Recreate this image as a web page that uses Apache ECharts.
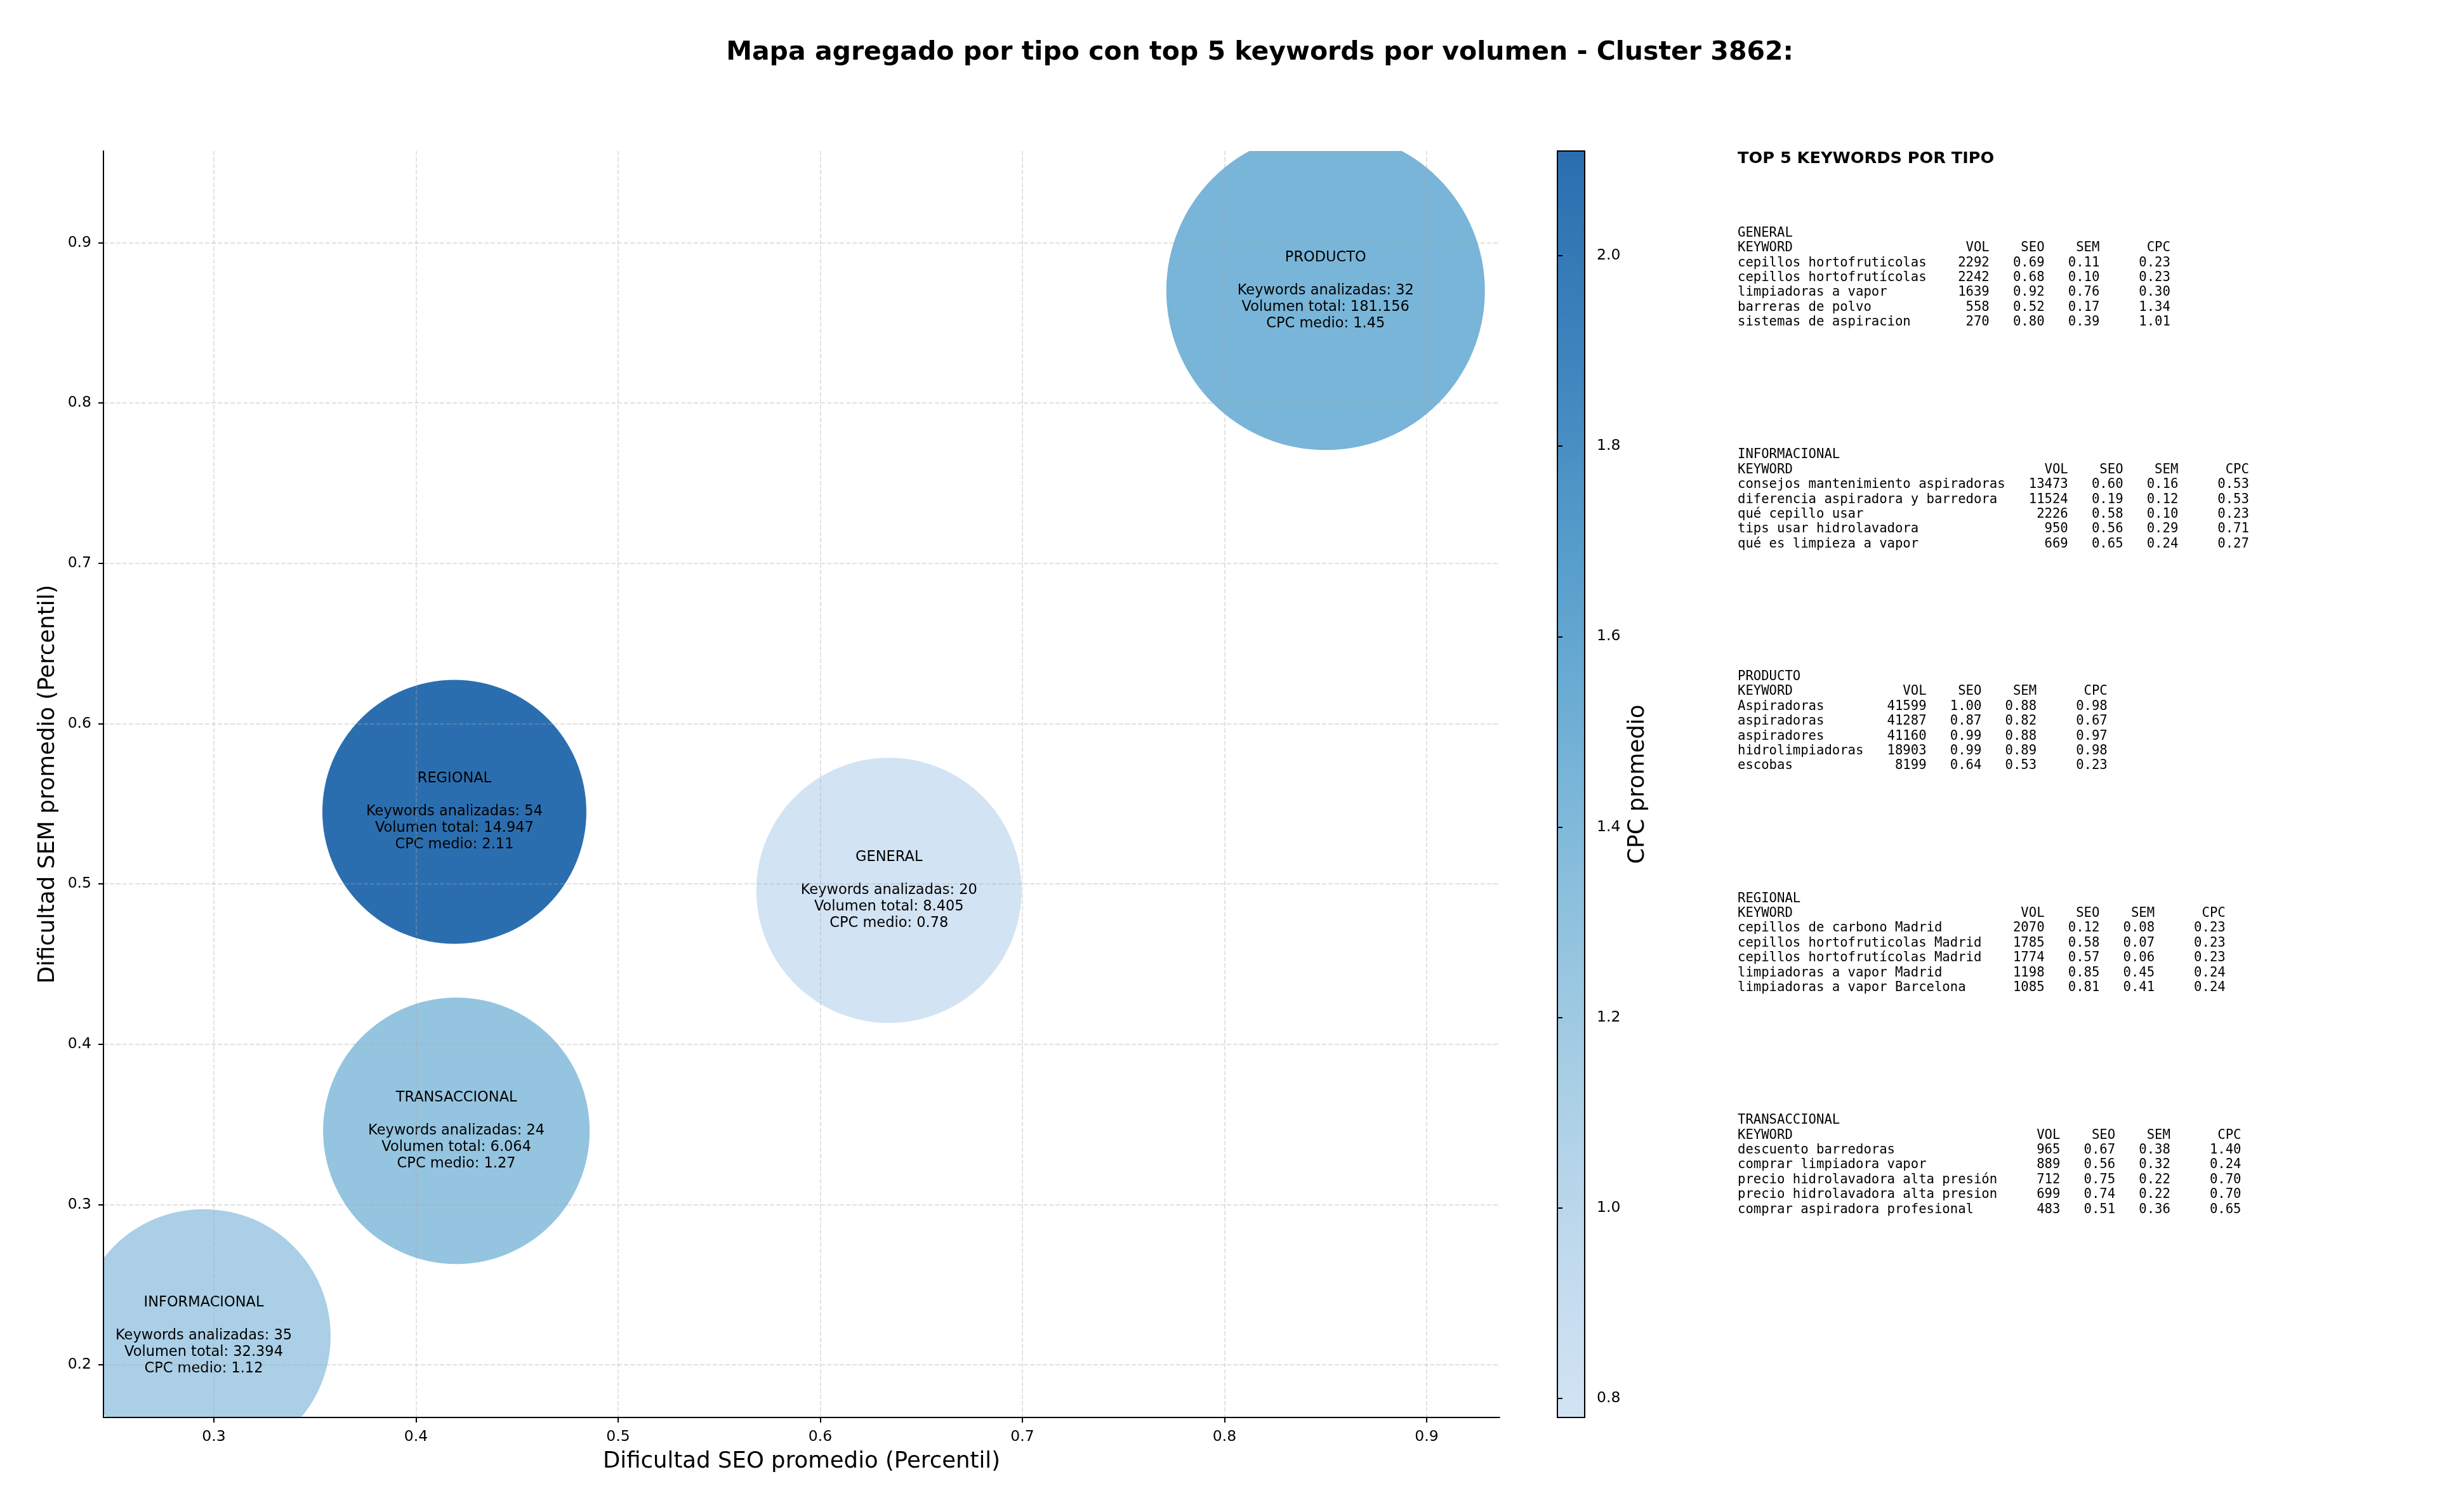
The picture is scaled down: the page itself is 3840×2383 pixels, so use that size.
<!DOCTYPE html>
<html>
<head>
<meta charset="utf-8">
<script src="https://cdn.jsdelivr.net/npm/echarts@6/dist/echarts.min.js"></script>
<style>
  html, body { margin: 0; padding: 0; background: #fff; }
  #chart { width: 3840px; height: 2383px; }
</style>
</head>
<body>
<div id="chart"></div>
<script>
// bubble data (one entry per intent type)
const tipos = ["GENERAL", "INFORMACIONAL", "PRODUCTO", "REGIONAL", "TRANSACCIONAL"];
const seoAvg = [0.634, 0.295, 0.850, 0.419, 0.420];
const semAvg = [0.496, 0.218, 0.870, 0.545, 0.346];
const kwCount = [20, 35, 32, 54, 24];
const volTotal = [8405, 32394, 181156, 14947, 6064];
const cpcAvg = [0.78, 1.12, 1.45, 2.11, 1.27];
const bubbleSize = [418, 400, 502, 416, 420];

const xTicks = [0.3, 0.4, 0.5, 0.6, 0.7, 0.8, 0.9];
const yTicks = [0.2, 0.3, 0.4, 0.5, 0.6, 0.7, 0.8, 0.9];
const cbTicks = [0.8, 1.0, 1.2, 1.4, 1.6, 1.8, 2.0];

// top 5 keywords per type
const kwGeneral = ["cepillos hortofruticolas", "cepillos hortofrutícolas", "limpiadoras a vapor", "barreras de polvo", "sistemas de aspiracion"];
const volGeneral = [2292, 2242, 1639, 558, 270];
const seoGeneral = [0.69, 0.68, 0.92, 0.52, 0.80];
const semGeneral = [0.11, 0.10, 0.76, 0.17, 0.39];
const cpcGeneral = [0.23, 0.23, 0.30, 1.34, 1.01];

const kwInfo = ["consejos mantenimiento aspiradoras", "diferencia aspiradora y barredora", "qué cepillo usar", "tips usar hidrolavadora", "qué es limpieza a vapor"];
const volInfo = [13473, 11524, 2226, 950, 669];
const seoInfo = [0.60, 0.19, 0.58, 0.56, 0.65];
const semInfo = [0.16, 0.12, 0.10, 0.29, 0.24];
const cpcInfo = [0.53, 0.53, 0.23, 0.71, 0.27];

const kwProducto = ["Aspiradoras", "aspiradoras", "aspiradores", "hidrolimpiadoras", "escobas"];
const volProducto = [41599, 41287, 41160, 18903, 8199];
const seoProducto = [1.00, 0.87, 0.99, 0.99, 0.64];
const semProducto = [0.88, 0.82, 0.88, 0.89, 0.53];
const cpcProducto = [0.98, 0.67, 0.97, 0.98, 0.23];

const kwRegional = ["cepillos de carbono Madrid", "cepillos hortofruticolas Madrid", "cepillos hortofrutícolas Madrid", "limpiadoras a vapor Madrid", "limpiadoras a vapor Barcelona"];
const volRegional = [2070, 1785, 1774, 1198, 1085];
const seoRegional = [0.12, 0.58, 0.57, 0.85, 0.81];
const semRegional = [0.08, 0.07, 0.06, 0.45, 0.41];
const cpcRegional = [0.23, 0.23, 0.23, 0.24, 0.24];

const kwTrans = ["descuento barredoras", "comprar limpiadora vapor", "precio hidrolavadora alta presión", "precio hidrolavadora alta presion", "comprar aspiradora profesional"];
const volTrans = [965, 889, 712, 699, 483];
const seoTrans = [0.67, 0.56, 0.75, 0.74, 0.51];
const semTrans = [0.38, 0.32, 0.22, 0.22, 0.36];
const cpcTrans = [1.40, 0.24, 0.70, 0.70, 0.65];

const tablas = [
    ["GENERAL", kwGeneral, volGeneral, seoGeneral, semGeneral, cpcGeneral],
    ["INFORMACIONAL", kwInfo, volInfo, seoInfo, semInfo, cpcInfo],
    ["PRODUCTO", kwProducto, volProducto, seoProducto, semProducto, cpcProducto],
    ["REGIONAL", kwRegional, volRegional, seoRegional, semRegional, cpcRegional],
    ["TRANSACCIONAL", kwTrans, volTrans, seoTrans, semTrans, cpcTrans],
];

const miles = (n) => String(n).replace(/\B(?=(\d{3})+(?!\d))/g, ".");

function tablaTexto([tipo, kws, vols, seos, sems, cpcs]) {
    const w = Math.max(...kws.map(k => k.length)) + 2;
    const lines = [tipo,
        "KEYWORD".padEnd(w) + "VOL".padStart(6) + " " + "SEO".padStart(6) + " " + "SEM".padStart(6) + " " + "CPC".padStart(8)];
    kws.forEach((k, i) => {
        lines.push(k.padEnd(w) + String(vols[i]).padStart(6) + " " + seos[i].toFixed(2).padStart(6) + " " +
            sems[i].toFixed(2).padStart(6) + " " + cpcs[i].toFixed(2).padStart(8));
    });
    return lines.join("\n");
}

const chart = echarts.init(document.getElementById("chart"));

const plot = { left: 163, top: 238, width: 2200, height: 1996 };
const cbar = { left: 2454, top: 238, width: 43, height: 1996 };
const monoLH = 23.4;

const sideTexts = tablas.map((t, i) => ({
    type: "text",
    x: 2738,
    y: 367.4 + i * 349.6 - monoLH / 2,
    style: {
        text: tablaTexto(t),
        fontFamily: "DejaVu Sans Mono",
        fontSize: 20.6,
        lineHeight: monoLH,
        fill: "#000",
        align: "left",
        verticalAlign: "top",
    },
}));

const splitStyle = { color: "rgba(170,170,170,0.35)", width: 1.9, type: [7, 3] };

const option = {
    backgroundColor: "#fff",
    animation: false,
    textStyle: { fontFamily: "DejaVu Sans" },
    graphic: [
        {
            type: "text",
            x: 1985,
            y: 83,
            style: {
                text: "Mapa agregado por tipo con top 5 keywords por volumen - Cluster 3862:",
                fontFamily: "DejaVu Sans",
                fontWeight: "bold",
                fontSize: 41,
                fill: "#000",
                align: "center",
                verticalAlign: "middle",
            },
        },
        {
            type: "text",
            x: 2738,
            y: 250,
            style: {
                text: "TOP 5 KEYWORDS POR TIPO",
                fontFamily: "DejaVu Sans",
                fontWeight: "bold",
                fontSize: 25.6,
                fill: "#000",
                align: "left",
                verticalAlign: "middle",
            },
        },
        ...sideTexts,
    ],
    grid: [
        { ...plot, containLabel: false },
        { ...cbar, show: true, borderColor: "#000", borderWidth: 2, backgroundColor: "transparent", z: 10 },
    ],
    xAxis: [
        {
            type: "value",
            gridIndex: 0,
            min: 0.2454,
            max: 0.9361,
            z: 3,
            name: "Dificultad SEO promedio (Percentil)",
            nameLocation: "middle",
            nameGap: 52,
            nameTextStyle: { fontSize: 35.5, color: "#000", lineHeight: 36 },
            axisLine: { show: true, onZero: false, lineStyle: { color: "#000", width: 2 } },
            axisTick: { show: true, length: 8, customValues: xTicks, lineStyle: { color: "#000", width: 2 } },
            axisLabel: { customValues: xTicks, margin: 19, fontSize: 23.5, color: "#000", formatter: v => v.toFixed(1) },
            splitLine: { show: true, lineStyle: splitStyle },
        },
        { type: "value", gridIndex: 1, min: 0, max: 1, show: false },
    ],
    yAxis: [
        {
            type: "value",
            gridIndex: 0,
            min: 0.1672,
            max: 0.9572,
            z: 3,
            name: "Dificultad SEM promedio (Percentil)",
            nameLocation: "middle",
            nameGap: 69,
            nameRotate: 90,
            nameTextStyle: { fontSize: 35.5, color: "#000", lineHeight: 36 },
            axisLine: { show: true, onZero: false, lineStyle: { color: "#000", width: 2 } },
            axisTick: { show: true, length: 8, customValues: yTicks, lineStyle: { color: "#000", width: 2 } },
            axisLabel: { customValues: yTicks, margin: 19, fontSize: 23.5, color: "#000", formatter: v => v.toFixed(1) },
            splitLine: { show: true, lineStyle: splitStyle },
        },
        {
            type: "value",
            gridIndex: 1,
            position: "right",
            min: 0.78,
            max: 2.11,
            z: 11,
            name: "CPC promedio",
            nameLocation: "middle",
            nameGap: 66,
            nameRotate: 90,
            nameTextStyle: { fontSize: 35.5, color: "#000", lineHeight: 36 },
            axisLine: { show: false },
            axisTick: { show: true, length: 8, customValues: cbTicks, lineStyle: { color: "#000", width: 2 } },
            axisLabel: { customValues: cbTicks, margin: 19, fontSize: 23.5, color: "#000", formatter: v => v.toFixed(1) },
            splitLine: { show: false },
        },
    ],
    visualMap: {
        type: "continuous",
        seriesIndex: 0,
        dimension: 2,
        min: 0.78,
        max: 2.11,
        calculable: false,
        hoverLink: false,
        text: null,
        padding: 0,
        left: cbar.left,
        top: cbar.top,
        itemWidth: cbar.width,
        itemHeight: cbar.height,
        inRange: {
            color: ["#d2e3f3", "#c5dcee", "#b4d4e9", "#a2cbe3", "#8ec1dd", "#79b5d8",
                "#65a8d1", "#549bca", "#4489c0", "#377bb7", "#2b6eaf"],
        },
    },
    series: [
        {
            type: "custom",
            xAxisIndex: 0,
            yAxisIndex: 0,
            clip: true,
            data: tipos.map((t, i) => [seoAvg[i], semAvg[i], cpcAvg[i]]),
            encode: { x: 0, y: 1 },
            renderItem: (params, api) => {
                const i = params.dataIndex;
                const c = api.coord([api.value(0), api.value(1)]);
                return {
                    type: "group",
                    children: [
                        {
                            type: "circle",
                            shape: { cx: c[0], cy: c[1], r: bubbleSize[i] / 2 },
                            style: { fill: api.visual("color") },
                        },
                        {
                            type: "text",
                            x: c[0],
                            y: c[1],
                            style: {
                                text: tipos[i] + "\n\nKeywords analizadas: " + kwCount[i] +
                                    "\nVolumen total: " + miles(volTotal[i]) +
                                    "\nCPC medio: " + cpcAvg[i].toFixed(2),
                                fontFamily: "DejaVu Sans",
                                fontSize: 22.5,
                                lineHeight: 26,
                                fill: "#000",
                                align: "center",
                                verticalAlign: "middle",
                            },
                        },
                    ],
                };
            },
        },
    ],
};

chart.setOption(option);
</script>
</body>
</html>
